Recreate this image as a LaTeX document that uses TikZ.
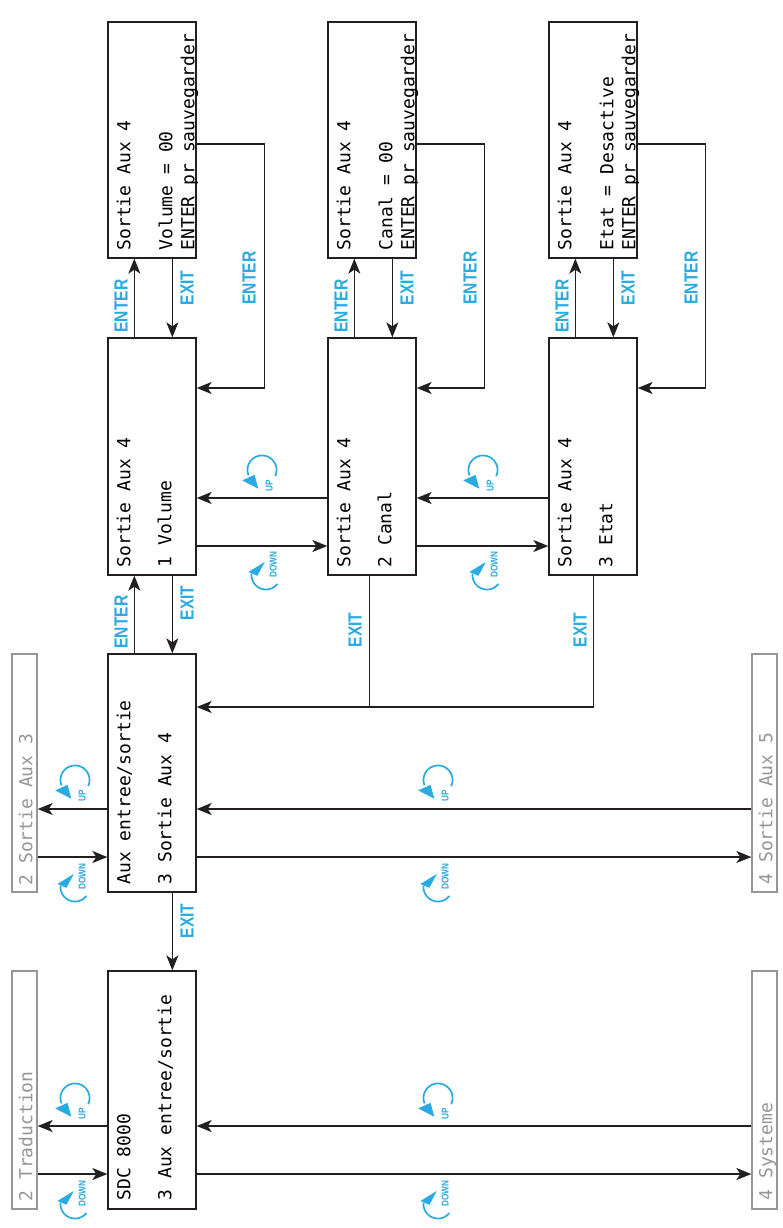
\documentclass[tikz,border=0pt]{standalone}
\usepackage{fontspec}
\setmonofont{DejaVu Sans Mono}
\newfontfamily\lblfont[FakeStretch=0.82]{Liberation Sans}
\usetikzlibrary{arrows.meta,calc}
\definecolor{cyanl}{RGB}{41,171,226}
\definecolor{grayl}{RGB}{150,150,150}
\definecolor{linec}{RGB}{35,31,32}
\tikzset{
  lcdbox/.style={draw=linec, line width=1.3pt, inner sep=0pt, minimum width=88pt},
  graybox/.style={draw=grayl, line width=1.3pt, inner sep=0pt, minimum width=25pt, minimum height=238pt},
  lcdtxt/.style={rotate=90, anchor=base west, inner sep=0pt, text=black,
                 font=\ttfamily\fontsize{18}{21}\selectfont},
  graytxt/.style={lcdtxt, text=grayl},
  conn/.style={draw=linec, line width=1.6pt, -{Stealth[length=15pt,width=12pt,inset=4pt]}},
  wire/.style={draw=linec, line width=1.6pt},
  lbl/.style={rotate=90, text=cyanl, inner sep=0pt, font=\lblfont\bfseries\fontsize{19}{21}\selectfont},
  icontxt/.style={rotate=90, text=cyanl, inner sep=0pt, font=\lblfont\bfseries\fontsize{10}{11}\selectfont},
  upicon/.pic={
    \begin{scope}[yscale=-1.12, xscale=1.12]
      \draw[cyanl, line width=1.7pt] (-25:13) arc[start angle=-25, end angle=202, radius=13];
      \fill[cyanl] (-17.7,-9.3) -- (-6.7,-4.3) -- (-3.3,-16.7) -- cycle;
      \node[icontxt] (-t) at (6.5,-14) {UP};
    \end{scope}
  },
  downicon/.pic={
    \begin{scope}[yscale=-1.12, xscale=1.12]
      \draw[cyanl, line width=1.7pt] (175:13) arc[start angle=175, end angle=322, radius=13];
      \fill[cyanl] (-1,11.7) -- (-15.7,2.7) -- (-7.7,-0.7) -- cycle;
      \node[icontxt] (-t) at (6.5,9.5) {DOWN};
    \end{scope}
  }
}
\begin{document}
\begin{tikzpicture}[x=1pt,y=-1pt]
\useasboundingbox[fill=white] (0,0) rectangle (782,1228);

% boxes
\node[lcdbox, minimum height=236pt] (vt) at (152,140) {};
\node[lcdbox, minimum height=237pt] (vm) at (152,456.5) {};
\node[lcdbox, minimum height=236pt] (ct) at (372,140) {};
\node[lcdbox, minimum height=237pt] (cm) at (372,456.5) {};
\node[lcdbox, minimum height=236pt] (et) at (593,140) {};
\node[lcdbox, minimum height=237pt] (em) at (593,456.5) {};
\node[lcdbox, minimum height=238pt] (aux) at (152,773) {};
\node[lcdbox, minimum height=238pt] (sdc) at (152,1090) {};
\node[graybox] (gl1) at (24.5,773) {};
\node[graybox] (gl2) at (24.5,1090) {};
\node[graybox] (gr1) at (764.5,773) {};
\node[graybox] (gr2) at (764.5,1090) {};

% box texts
\node[lcdtxt] (vt1) at ($(vt.south west)+(23,-8)$) {Sortie Aux 4};
\node[lcdtxt] (vt3) at ($(vt.south west)+(65,-8)$) {Volume = 00};
\node[lcdtxt] (vt4) at ($(vt.south west)+(87,-8)$) {ENTER pr sauvegarder};
\node[lcdtxt] (ct1) at ($(ct.south west)+(23,-8)$) {Sortie Aux 4};
\node[lcdtxt] (ct3) at ($(ct.south west)+(65,-8)$) {Canal = 00};
\node[lcdtxt] (ct4) at ($(ct.south west)+(87,-8)$) {ENTER pr sauvegarder};
\node[lcdtxt] (et1) at ($(et.south west)+(23,-8)$) {Sortie Aux 4};
\node[lcdtxt] (et3) at ($(et.south west)+(65,-8)$) {Etat = Desactive};
\node[lcdtxt] (et4) at ($(et.south west)+(87,-8)$) {ENTER pr sauvegarder};
\node[lcdtxt] (vm1) at ($(vm.south west)+(23,-8)$) {Sortie Aux 4};
\node[lcdtxt] (vm3) at ($(vm.south west)+(64,-8)$) {1 Volume};
\node[lcdtxt] (cm1) at ($(cm.south west)+(23,-8)$) {Sortie Aux 4};
\node[lcdtxt] (cm3) at ($(cm.south west)+(64,-8)$) {2 Canal};
\node[lcdtxt] (em1) at ($(em.south west)+(23,-8)$) {Sortie Aux 4};
\node[lcdtxt] (em3) at ($(em.south west)+(64,-8)$) {3 Etat};
\node[lcdtxt] (aux1) at ($(aux.south west)+(23,-8)$) {Aux entree/sortie};
\node[lcdtxt] (aux3) at ($(aux.south west)+(64,-8)$) {3 Sortie Aux 4};
\node[lcdtxt] (sdc1) at ($(sdc.south west)+(23,-9)$) {SDC 8000};
\node[lcdtxt] (sdc3) at ($(sdc.south west)+(64,-9)$) {3 Aux entree/sortie};
\node[graytxt] (gl1t) at ($(gl1.south west)+(21,-7)$) {2 Sortie Aux 3};
\node[graytxt] (gl2t) at ($(gl2.south west)+(21,-8)$) {2 Traduction};
\node[graytxt] (gr1t) at ($(gr1.south west)+(21,-8)$) {4 Sortie Aux 5};
\node[graytxt] (gr2t) at ($(gr2.south west)+(21,-9)$) {4 Systeme};

% level coordinates
\coordinate (yAU) at (0,809);
\coordinate (yAD) at (0,857);
\coordinate (yBU) at (0,1126);
\coordinate (yBD) at (0,1174);
\coordinate (yEx) at (0,707);
\coordinate (yCU) at (0,498);
\coordinate (yCD) at (0,546);
\coordinate (yLo) at (0,144);
\coordinate (yLi) at (0,388);

% column ENTER / EXIT
\foreach \t/\m in {vt/vm, ct/cm, et/em}{
  \draw[conn] ([xshift=27pt]\m.north west) -- ([xshift=27pt]\t.south west);
  \draw[conn] ([xshift=65pt]\t.south west) -- ([xshift=65pt]\m.north west);
  \draw[conn] (\t.east |- yLo) -- ++(68,0) |- (\m.east |- yLi);
}

% between columns
\draw[conn] (cm.west |- yCU) -- (vm.east |- yCU);
\draw[conn] (vm.east |- yCD) -- (cm.west |- yCD);
\draw[conn] (em.west |- yCU) -- (cm.east |- yCU);
\draw[conn] (cm.east |- yCD) -- (em.west |- yCD);

% EXIT from main boxes to Aux
\draw[conn] ([xshift=45pt]em.south west) |- (aux.east |- yEx);
\draw[wire] ([xshift=42pt]cm.south west) -- ([xshift=42pt]cm.south west |- yEx);

% Aux <-> Volume, Aux -> SDC
\draw[conn] ([xshift=27pt]aux.north west) -- ([xshift=27pt]vm.south west);
\draw[conn] ([xshift=65pt]vm.south west) -- ([xshift=65pt]aux.north west);
\draw[conn] ([xshift=65pt]aux.south west) -- ([xshift=65pt]sdc.north west);

% left / right neighbours
\draw[conn] (aux.west |- yAU) -- (gl1.east |- yAU);
\draw[conn] (gl1.east |- yAD) -- (aux.west |- yAD);
\draw[conn] (gr1.west |- yAU) -- (aux.east |- yAU);
\draw[conn] (aux.east |- yAD) -- (gr1.west |- yAD);
\draw[conn] (sdc.west |- yBU) -- (gl2.east |- yBU);
\draw[conn] (gl2.east |- yBD) -- (sdc.west |- yBD);
\draw[conn] (gr2.west |- yBU) -- (sdc.east |- yBU);
\draw[conn] (sdc.east |- yBD) -- (gr2.west |- yBD);

% labels
\node[lbl] (le1) at (121,306) {ENTER};
\node[lbl] (le2) at (341,306) {ENTER};
\node[lbl] (le3) at (562,306) {ENTER};
\node[lbl] (lx1) at (187,288) {EXIT};
\node[lbl] (lx2) at (407,288) {EXIT};
\node[lbl] (lx3) at (628,288) {EXIT};
\node[lbl] (ll1) at (249,278) {ENTER};
\node[lbl] (ll2) at (470,278) {ENTER};
\node[lbl] (ll3) at (691,278) {ENTER};
\node[lbl] (la1) at (121,622) {ENTER};
\node[lbl] (la2) at (187,603) {EXIT};
\node[lbl] (la3) at (187,921) {EXIT};
\node[lbl] (lc) at (355,630) {EXIT};
\node[lbl] (lee) at (580,630) {EXIT};

% icons
\pic (u1) at (75,780) {upicon};
\pic (d1) at (75,887) {downicon};
\pic (u2) at (75,1098) {upicon};
\pic (d2) at (75,1204) {downicon};
\pic (u3) at (438,780) {upicon};
\pic (d3) at (438,887) {downicon};
\pic (u4) at (438,1098) {upicon};
\pic (d4) at (438,1204) {downicon};
\pic (u5) at (262,470) {upicon};
\pic (d5) at (266,575) {downicon};
\pic (u6) at (483,470) {upicon};
\pic (d6) at (487,575) {downicon};
\end{tikzpicture}
\end{document}
